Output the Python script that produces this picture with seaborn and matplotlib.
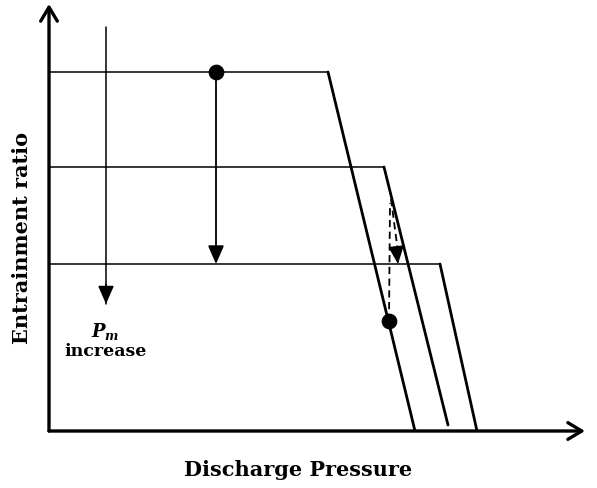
import matplotlib
matplotlib.use("Agg")
import matplotlib.pyplot as plt
import seaborn as sns
import pandas as pd

sns.set_theme(style="white")
plt.rcParams['font.family'] = ['DejaVu Serif', 'Liberation Serif']
plt.rcParams['text.color'] = 'black'
plt.rcParams['mathtext.fontset'] = 'custom'
plt.rcParams['mathtext.it'] = 'DejaVu Serif:italic:bold'
plt.rcParams['mathtext.rm'] = 'DejaVu Serif:bold'

# Data (schematic units)
levels = [359, 264, 167]        # entrainment ratio plateaus
knee_x = [279, 335, 391]        # discharge pressure at knee
end_x = [366, 399, 428]         # discharge pressure at end of slant
end_y = [0, 6, 0]
pm_arrow_x = [57, 57]
pm_arrow_y = [404, 127]
op_point1 = (167, 359)
op_point2 = (340, 110)
dash_up = ([340, 341], [110, 228])
dash_down = ([342, 349], [232, 167])

fig = plt.figure(figsize=(5.97, 4.89), dpi=100)
ax = fig.add_axes([49/597, (489-432)/489, 536/597, 427/489])
ax.set_xlim(0, 536)
ax.set_ylim(0, 427)

for lv, kx, ex, ey in zip(levels, knee_x, end_x, end_y):
    flat = pd.DataFrame({"x": [0, kx], "y": [lv, lv]})
    slant = pd.DataFrame({"x": [kx, ex], "y": [lv, ey]})
    sns.lineplot(data=flat, x="x", y="y", ax=ax, color="black", lw=1.1, sort=False)
    sns.lineplot(data=slant, x="x", y="y", ax=ax, color="black", lw=2.0, sort=False)

head = "-|>,head_length=0.8,head_width=0.35"

# Pm increase arrow
ax.plot(pm_arrow_x, pm_arrow_y, color="black", lw=1.1)
ax.annotate("", xy=(pm_arrow_x[1], pm_arrow_y[1]), xytext=(pm_arrow_x[1], pm_arrow_y[1] + 20),
            arrowprops=dict(arrowstyle=head, color="black", lw=1.1,
                            shrinkA=0, shrinkB=0, mutation_scale=14))
ax.text(56, 101, "$P_m$", fontsize=13, ha="center", va="center")
ax.text(57, 80, "increase", fontsize=12.5, fontweight="bold", ha="center", va="center")

# Operating point arrow
ax.annotate("", xy=(op_point1[0], 167), xytext=op_point1,
            arrowprops=dict(arrowstyle=head, color="black", lw=1.3,
                            shrinkA=0, shrinkB=0, mutation_scale=14))
pts = pd.DataFrame({"x": [op_point1[0], op_point2[0]], "y": [op_point1[1], op_point2[1]]})
sns.scatterplot(data=pts, x="x", y="y", ax=ax, color="black", s=110, edgecolor="black", zorder=5)

# Dashed path
ax.plot(dash_up[0], dash_up[1], color="black", lw=1.3, ls=(0, (4, 2.5)))
ax.plot(dash_down[0], [dash_down[1][0], dash_down[1][1] + 12], color="black", lw=1.3, ls=(0, (4, 2.5)))
ax.annotate("", xy=(dash_down[0][1], dash_down[1][1]), xytext=(dash_down[0][1] - 1.5, dash_down[1][1] + 14),
            arrowprops=dict(arrowstyle=head, color="black", lw=1.0,
                            shrinkA=0, shrinkB=0, mutation_scale=14))

# Axes arrows
ax.annotate("", xy=(536, 0), xytext=(0, 0), annotation_clip=False,
            arrowprops=dict(arrowstyle="->,head_length=0.5,head_width=0.3", color="black", lw=2.4,
                            shrinkA=0, shrinkB=0, mutation_scale=20))
ax.annotate("", xy=(0, 427), xytext=(0, 0), annotation_clip=False,
            arrowprops=dict(arrowstyle="->,head_length=0.5,head_width=0.3", color="black", lw=2.4,
                            shrinkA=0, shrinkB=0, mutation_scale=20))

for s in ax.spines.values():
    s.set_visible(False)
ax.set_xticks([])
ax.set_yticks([])
ax.set_xlabel("")
ax.set_ylabel("")
ax.patch.set_alpha(0)

fig.text(298/597, 1 - 470/489, "Discharge Pressure", fontsize=15, fontweight="bold",
         ha="center", va="center")
fig.text(22/597, 1 - 238/489, "Entrainment ratio", fontsize=15, fontweight="bold",
         ha="center", va="center", rotation=90)

fig.savefig("out.png", dpi=100, facecolor="white")
